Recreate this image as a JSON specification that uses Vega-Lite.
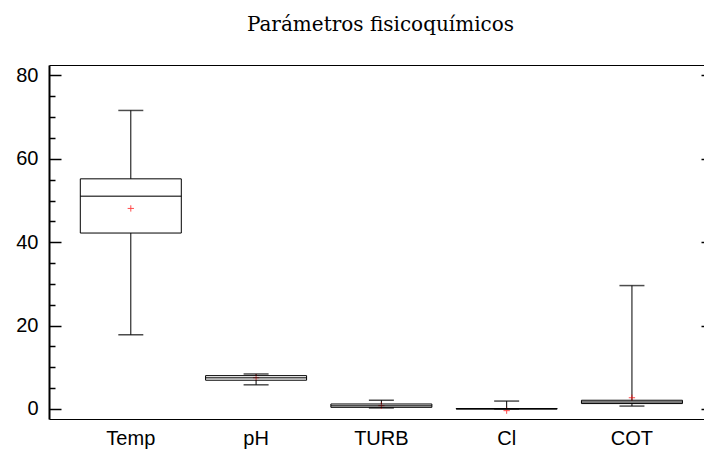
{
  "$schema": "https://vega.github.io/schema/vega-lite/v6.json",
  "width": 655,
  "height": 354,
  "autosize": {"type": "none"},
  "padding": {"left": 49, "top": 65, "right": 0, "bottom": 32},
  "background": "white",
  "title": {
    "text": "Parámetros fisicoquímicos",
    "font": "DejaVu Serif",
    "fontSize": 20,
    "fontWeight": "normal",
    "color": "black",
    "anchor": "middle",
    "dx": 4,
    "baseline": "alphabetic",
    "offset": 14
  },
  "config": {
    "view": {"stroke": null},
    "axis": {"domainColor": "black", "tickColor": "black", "labelColor": "black", "labelFont": "Liberation Sans", "labelFontSize": 20, "titleFont": "Liberation Sans"}
  },
  "data": {
    "values": [
      {"param": "Temp", "min": 17.8, "q1": 42.2, "median": 51.0, "q3": 55.2, "max": 71.6, "mean": 48.1},
      {"param": "pH", "min": 5.8, "q1": 6.9, "median": 7.5, "q3": 8.0, "max": 8.4, "mean": 7.5},
      {"param": "TURB", "min": 0.25, "q1": 0.4, "median": 0.8, "q3": 1.2, "max": 2.1, "mean": 0.8},
      {"param": "Cl", "min": 0.0, "q1": 0.0, "median": 0.05, "q3": 0.1, "max": 1.9, "mean": -0.4},
      {"param": "COT", "min": 0.7, "q1": 1.3, "median": 1.7, "q3": 2.1, "max": 29.6, "mean": 2.7}
    ]
  },
  "resolve": {"axis": {"y": "independent", "x": "independent"}},
  "layer": [
    {
      "mark": {"type": "rule", "color": "black", "strokeWidth": 1},
      "encoding": {
        "x": {
          "field": "param", "type": "nominal", "sort": ["Temp", "pH", "TURB", "Cl", "COT"],
          "scale": {"range": [0, 664], "paddingInner": 0, "paddingOuter": 0.15, "align": 0.51},
          "axis": {"orient": "bottom", "title": null, "ticks": false, "labelAngle": 0, "labelPadding": 9, "domainWidth": 1}
        },
        "y": {
          "field": "q3", "type": "quantitative",
          "scale": {"domain": [-2.4, 82.5], "nice": false, "zero": false},
          "axis": {
            "orient": "left", "title": null, "grid": false,
            "values": [0, 5, 10, 15, 20, 25, 30, 35, 40, 45, 50, 55, 60, 65, 70, 75, 80],
            "labelExpr": "datum.value % 20 === 0 ? datum.label : ''",
            "tickSize": {"condition": {"test": "datum.value % 20 === 0", "value": -12}, "value": -6},
            "tickWidth": 1.5,
            "domainWidth": 2,
            "labelPadding": 23
          }
        },
        "y2": {"field": "max"}
      }
    },
    {
      "mark": {"type": "rule", "color": "black", "strokeWidth": 1},
      "encoding": {
        "x": {
          "field": "param", "type": "nominal", "sort": ["Temp", "pH", "TURB", "Cl", "COT"],
          "axis": {"orient": "top", "title": null, "ticks": false, "labels": false, "domainWidth": 1}
        },
        "y": {
          "field": "min", "type": "quantitative",
          "axis": {
            "orient": "right", "title": null, "grid": false, "domain": false, "labels": false, "offset": 9,
            "values": [0, 5, 10, 15, 20, 25, 30, 35, 40, 45, 50, 55, 60, 65, 70, 75, 80],
            "tickSize": {"condition": {"test": "datum.value % 20 === 0", "value": -12}, "value": -6},
            "tickWidth": 1.5
          }
        },
        "y2": {"field": "q1"}
      }
    },
    {
      "mark": {"type": "tick", "color": "black", "thickness": 1.5, "size": 25},
      "encoding": {
        "x": {"field": "param", "type": "nominal", "sort": ["Temp", "pH", "TURB", "Cl", "COT"], "axis": null},
        "y": {"field": "max", "type": "quantitative", "axis": null}
      }
    },
    {
      "mark": {"type": "tick", "color": "black", "thickness": 1.5, "size": 25},
      "encoding": {
        "x": {"field": "param", "type": "nominal", "sort": ["Temp", "pH", "TURB", "Cl", "COT"], "axis": null},
        "y": {"field": "min", "type": "quantitative", "axis": null}
      }
    },
    {
      "mark": {"type": "point", "shape": "M -1 0 L 1 0 M 0 -1 L 0 1", "filled": false, "stroke": "#ff0000", "strokeWidth": 1, "size": 40},
      "encoding": {
        "x": {"field": "param", "type": "nominal", "sort": ["Temp", "pH", "TURB", "Cl", "COT"], "axis": null},
        "y": {"field": "mean", "type": "quantitative", "axis": null}
      }
    },
    {
      "mark": {"type": "bar", "fill": "transparent", "stroke": "black", "strokeWidth": 1, "size": 101},
      "encoding": {
        "x": {"field": "param", "type": "nominal", "sort": ["Temp", "pH", "TURB", "Cl", "COT"], "axis": null},
        "y": {"field": "q1", "type": "quantitative", "axis": null},
        "y2": {"field": "q3"}
      }
    },
    {
      "mark": {"type": "tick", "color": "black", "thickness": 1.5, "size": 101},
      "encoding": {
        "x": {"field": "param", "type": "nominal", "sort": ["Temp", "pH", "TURB", "Cl", "COT"], "axis": null},
        "y": {"field": "median", "type": "quantitative", "axis": null}
      }
    }
  ]
}
